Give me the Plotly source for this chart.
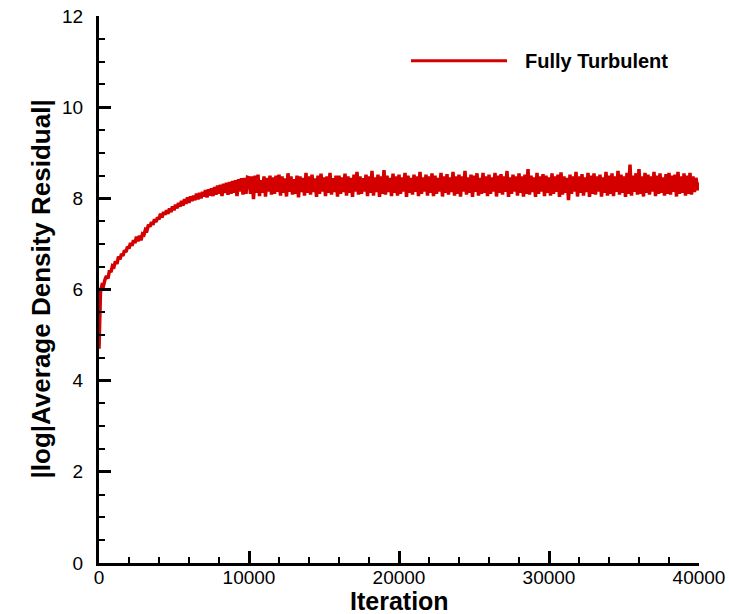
import plotly.graph_objects as go

iterations = list(range(0, 40001, 100))

residual = [
    4.7, 5.95, 6.1, 6.08, 6.22, 6.3, 6.24, 6.42, 6.38, 6.52,
    6.5, 6.62, 6.56, 6.72, 6.66, 6.78, 6.74, 6.86, 6.82, 6.94,
    6.9, 7.02, 6.96, 7.08, 7.02, 7.16, 7.06, 7.18, 7.08, 7.22,
    7.2, 7.32, 7.3, 7.42, 7.38, 7.48, 7.42, 7.54, 7.48, 7.58,
    7.54, 7.66, 7.58, 7.7, 7.64, 7.74, 7.66, 7.78, 7.7, 7.82,
    7.74, 7.86, 7.78, 7.9, 7.82, 7.94, 7.84, 7.98, 7.88, 8.02,
    7.9, 8.04, 7.94, 8.06, 7.96, 8.1, 7.98, 8.12, 8.0, 8.14,
    8.04, 8.18, 8.02, 8.2, 8.06, 8.22, 8.05, 8.25, 8.08, 8.28,
    8.1, 8.3, 8.05, 8.32, 8.12, 8.34, 8.08, 8.36, 8.1, 8.38,
    8.12, 8.4, 8.05, 8.42, 8.15, 8.44, 8.08, 8.45, 8.1, 8.46,
    # 10000
    8.45, 8.1, 8.48, 7.98, 8.5, 8.12, 8.52, 8.05, 8.4, 8.12, 8.48, 8.04, 8.45, 8.15, 8.5, 8.08, 8.46, 8.1, 8.5, 8.14,
    8.52, 8.06, 8.48, 8.12, 8.44, 8.04, 8.55, 8.14, 8.48, 8.08, 8.42, 8.1, 8.5, 8.02, 8.48, 8.14, 8.45, 8.06, 8.56, 8.12,
    8.48, 8.08, 8.52, 8.14, 8.44, 8.03, 8.5, 8.1, 8.54, 8.15, 8.46, 8.05, 8.48, 8.12, 8.56, 8.08, 8.44, 8.14, 8.5, 8.04,
    8.5, 8.1, 8.46, 8.14, 8.54, 8.06, 8.48, 8.12, 8.45, 8.03, 8.52, 8.15, 8.58, 8.08, 8.48, 8.1, 8.44, 8.15, 8.52, 8.05,
    8.48, 8.12, 8.6, 8.06, 8.46, 8.14, 8.52, 8.03, 8.48, 8.1, 8.62, 8.08, 8.5, 8.14, 8.45, 8.05, 8.54, 8.12, 8.48, 8.06,
    # 20000
    8.52, 8.1, 8.46, 8.15, 8.56, 8.03, 8.5, 8.12, 8.45, 8.08, 8.52, 8.14, 8.48, 8.05, 8.58, 8.1, 8.46, 8.15, 8.52, 8.06,
    8.48, 8.12, 8.55, 8.05, 8.5, 8.1, 8.45, 8.15, 8.56, 8.04, 8.48, 8.12, 8.53, 8.08, 8.46, 8.14, 8.58, 8.06, 8.48, 8.1,
    8.52, 8.04, 8.48, 8.15, 8.6, 8.08, 8.46, 8.12, 8.52, 8.03, 8.5, 8.14, 8.55, 8.06, 8.45, 8.1, 8.56, 8.12, 8.48, 8.05,
    8.52, 8.1, 8.46, 8.15, 8.56, 8.04, 8.5, 8.12, 8.53, 8.08, 8.48, 8.14, 8.6, 8.03, 8.46, 8.1, 8.52, 8.15, 8.48, 8.06,
    8.55, 8.12, 8.48, 8.04, 8.52, 8.1, 8.64, 8.08, 8.5, 8.14, 8.46, 8.03, 8.56, 8.1, 8.48, 8.15, 8.53, 8.05, 8.5, 8.12,
    # 30000
    8.46, 8.06, 8.55, 8.1, 8.48, 8.14, 8.52, 8.03, 8.57, 8.08, 8.48, 8.12, 8.45, 7.96, 8.52, 8.1, 8.48, 8.15, 8.58, 8.04,
    8.48, 8.12, 8.53, 8.06, 8.46, 8.14, 8.56, 8.03, 8.5, 8.1, 8.55, 8.08, 8.48, 8.15, 8.52, 8.04, 8.46, 8.12, 8.58, 8.06,
    8.5, 8.1, 8.55, 8.05, 8.48, 8.14, 8.6, 8.08, 8.52, 8.12, 8.48, 8.03, 8.56, 8.1, 8.74, 8.06, 8.5, 8.14, 8.55, 8.08,
    8.64, 8.1, 8.48, 8.04, 8.56, 8.12, 8.52, 8.08, 8.48, 8.15, 8.58, 8.05, 8.5, 8.1, 8.55, 8.12, 8.46, 8.06, 8.53, 8.1,
    8.56, 8.08, 8.5, 8.14, 8.52, 8.04, 8.58, 8.1, 8.48, 8.12, 8.55, 8.06, 8.5, 8.1, 8.56, 8.08, 8.48, 8.14, 8.45, 8.18,
    8.35,
]

series_name = "Fully Turbulent"
x_title = "Iteration"
y_title = "|log|Average Density Residual|"

RED = "#d40000"
FONT = "Liberation Sans, Arial, sans-serif"

fig = go.Figure()
fig.add_trace(go.Scatter(
    x=iterations, y=residual, mode="lines", name=series_name,
    line=dict(color=RED, width=3.5), showlegend=False,
))

# manual legend (long line sample like the original)
fig.add_shape(type="line", xref="paper", yref="paper",
              x0=0.52, x1=0.68, y0=0.918, y1=0.918,
              line=dict(color=RED, width=3))
fig.add_annotation(xref="paper", yref="paper", x=0.706, y=0.918,
                   xanchor="left", yanchor="middle", showarrow=False,
                   text="<b>" + series_name + "</b>",
                   font=dict(family=FONT, size=20, color="black"))

# axis titles
fig.add_annotation(xref="paper", yref="paper", x=0.5, y=0, yshift=-38,
                   xanchor="center", yanchor="middle", showarrow=False,
                   text="<b>" + x_title + "</b>",
                   font=dict(family=FONT, size=25, color="black"))
fig.add_annotation(xref="paper", yref="paper", x=0, y=0.5, xshift=-59,
                   xanchor="center", yanchor="middle", showarrow=False,
                   textangle=-90,
                   text="<b>" + y_title + "</b>",
                   font=dict(family=FONT, size=26, color="black"))

fig.update_layout(
    width=729, height=614,
    margin=dict(l=99, r=30, t=16, b=51),
    paper_bgcolor="white", plot_bgcolor="white",
    font=dict(family=FONT, color="black"),
)
fig.update_xaxes(
    range=[0, 40000], dtick=10000, tick0=0, tickformat="d", automargin=False,
    showline=True, linecolor="black", linewidth=3, mirror=False,
    showgrid=False, zeroline=False,
    ticks="inside", ticklen=12, tickwidth=3, tickcolor="black",
    tickfont=dict(family=FONT, size=19, color="black"),
    ticklabelstandoff=-5,
    minor=dict(dtick=2000, ticks="inside", ticklen=6, tickwidth=1.5, tickcolor="black", showgrid=False),
)
fig.update_yaxes(
    range=[0, 12], dtick=2, tick0=0, automargin=False,
    showline=True, linecolor="black", linewidth=3, mirror=False,
    showgrid=False, zeroline=False,
    ticks="inside", ticklen=12, tickwidth=3, tickcolor="black",
    tickfont=dict(family=FONT, size=19, color="black"),
    ticklabelstandoff=9,
    minor=dict(dtick=0.5, ticks="inside", ticklen=6, tickwidth=1.5, tickcolor="black", showgrid=False),
)

fig.write_html("out.html")
